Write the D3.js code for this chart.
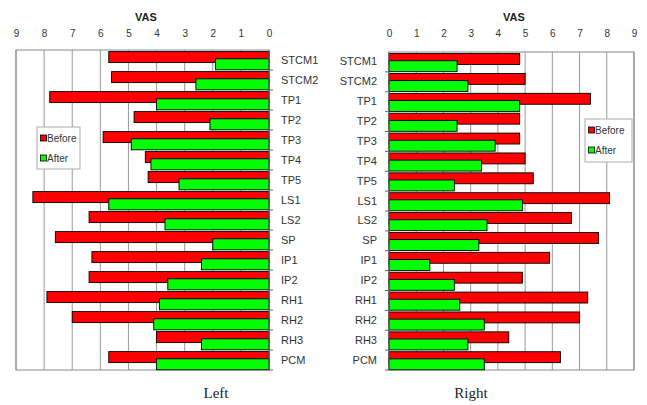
<!DOCTYPE html>
<html>
<head>
<meta charset="utf-8">
<script src="https://cdn.jsdelivr.net/npm/d3@7"></script>
<style>
  body { margin: 0; background: #fff; }
  svg { display: block; font-family: Arial, "Liberation Sans", sans-serif; }
  .tick text { fill: #333; }
</style>
</head>
<body>
<svg width="647" height="405"></svg>
<script>
// muscle sites, top to bottom
const sites = ["STCM1", "STCM2", "TP1", "TP2", "TP3", "TP4", "TP5", "LS1", "LS2", "SP", "IP1", "IP2", "RH1", "RH2", "RH3", "PCM"];

// VAS scores, left side
const leftBefore = [5.7, 5.6, 7.8, 4.8, 5.9, 4.4, 4.3, 8.4, 6.4, 7.6, 6.3, 6.4, 7.9, 7.0, 4.0, 5.7];
const leftAfter  = [1.9, 2.6, 4.0, 2.1, 4.9, 4.2, 3.2, 5.7, 3.7, 2.0, 2.4, 3.6, 3.9, 4.1, 2.4, 4.0];

// VAS scores, right side
const rightBefore = [4.8, 5.0, 7.4, 4.8, 4.8, 5.0, 5.3, 8.1, 6.7, 7.7, 5.9, 4.9, 7.3, 7.0, 4.4, 6.3];
const rightAfter  = [2.5, 2.9, 4.8, 2.5, 3.9, 3.4, 2.4, 4.9, 3.6, 3.3, 1.5, 2.4, 2.6, 3.5, 2.9, 3.5];

const vasTicks = [0, 1, 2, 3, 4, 5, 6, 7, 8, 9];
const seriesNames = ["Before", "After"];
const seriesColors = ["#ff0000", "#00ff00"];

const svg = d3.select("svg");

function panel(opt) {
  const g = svg.append("g");
  const x = d3.scaleLinear().domain([0, 9]).range(opt.xRange);
  const y = d3.scaleBand().domain(sites).range(opt.yRange).padding(0);
  const bw = y.bandwidth();
  const x0 = x(0);
  const xFar = x(9);

  // gridlines
  g.append("g").selectAll("line")
    .data(vasTicks.slice(1))
    .enter().append("line")
    .attr("x1", d => x(d)).attr("x2", d => x(d))
    .attr("y1", opt.yRange[0]).attr("y2", opt.yRange[1])
    .attr("stroke", "#999").attr("stroke-width", 1);

  // plot frame
  g.append("rect")
    .attr("x", Math.min(x0, xFar)).attr("y", opt.yRange[0])
    .attr("width", Math.abs(xFar - x0)).attr("height", opt.yRange[1] - opt.yRange[0])
    .attr("fill", "none").attr("stroke", "#888").attr("stroke-width", 1);

  // bars, before then after (after overlaps)
  const sets = [opt.before, opt.after];
  const offs = [0.08, 0.44];
  sets.forEach((vals, k) => {
    g.append("g").selectAll("rect")
      .data(vals)
      .enter().append("rect")
      .attr("x", d => Math.min(x(d), x0))
      .attr("width", d => Math.abs(x(d) - x0))
      .attr("y", (d, i) => y(sites[i]) + bw * offs[k])
      .attr("height", bw * 0.55)
      .attr("fill", seriesColors[k])
      .attr("stroke", "#000").attr("stroke-width", 0.9);
  });

  // category axis line and boundary ticks
  g.append("line")
    .attr("x1", x0).attr("x2", x0)
    .attr("y1", opt.yRange[0]).attr("y2", opt.yRange[1])
    .attr("stroke", "#666");
  g.append("g").selectAll("line")
    .data(sites)
    .enter().append("line")
    .attr("x1", x0).attr("x2", x0 + opt.tickDir * 4)
    .attr("y1", d => y(d) + bw).attr("y2", d => y(d) + bw)
    .attr("stroke", "#666");

  // category labels
  const cat = opt.catAxis(y).tickSize(0).tickPadding(12);
  g.append("g")
    .attr("transform", `translate(${x0},0)`)
    .call(cat)
    .call(a => a.select(".domain").remove())
    .selectAll("text")
    .style("font-size", "11px");

  // value axis on top
  g.append("g")
    .attr("transform", `translate(0,${opt.yRange[0]})`)
    .call(d3.axisTop(x).tickValues(vasTicks).tickSize(0).tickPadding(opt.yRange[0] - 37))
    .call(a => a.select(".domain").remove())
    .selectAll("text")
    .style("font-size", "10px").attr("fill", "#444");

  g.append("text")
    .attr("x", opt.vasX).attr("y", 21)
    .attr("text-anchor", "middle")
    .style("font-size", "11px").style("font-weight", "bold").attr("fill", "#222")
    .text("VAS");

  // legend
  const lg = g.append("g").attr("transform", `translate(${opt.legend[0]},${opt.legend[1]})`);
  lg.append("rect")
    .attr("width", opt.legend[2]).attr("height", opt.legend[3])
    .attr("fill", "#fff").attr("stroke", "#aaa");
  seriesNames.forEach((s, k) => {
    const ly = 11 + k * 20;
    lg.append("rect")
      .attr("x", 3.5).attr("y", ly - 3)
      .attr("width", 6).attr("height", 6)
      .attr("fill", seriesColors[k]).attr("stroke", "#000").attr("stroke-width", 0.8);
    lg.append("text")
      .attr("x", 10).attr("y", ly + 3.5)
      .style("font-size", "10px").attr("fill", "#333")
      .text(s);
  });

  // panel caption
  svg.append("text")
    .attr("x", opt.capX).attr("y", 398)
    .attr("text-anchor", "middle")
    .style("font-family", "'Liberation Serif', 'Times New Roman', serif")
    .style("font-size", "15px").attr("fill", "#222")
    .text(opt.caption);
}

panel({
  xRange: [269, 16], yRange: [50, 370],
  before: leftBefore, after: leftAfter,
  catAxis: d3.axisRight, tickDir: 1,
  vasX: 146, legend: [37, 127, 43, 42],
  caption: "Left", capX: 216
});

panel({
  xRange: [389, 634], yRange: [52, 370],
  before: rightBefore, after: rightAfter,
  catAxis: d3.axisLeft, tickDir: -1,
  vasX: 514, legend: [585, 119, 47, 43],
  caption: "Right", capX: 471
});
</script>
</body>
</html>
